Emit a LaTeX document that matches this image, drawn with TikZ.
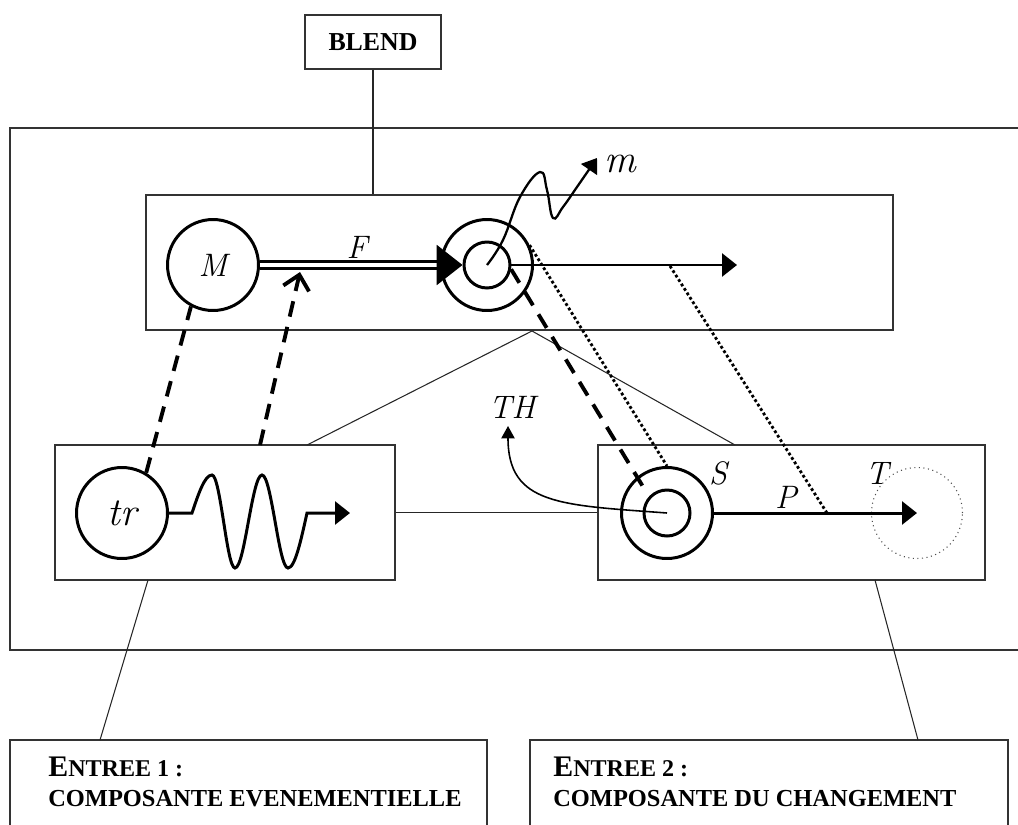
\documentclass[tikz,border=0pt]{standalone}
\usepackage{fontspec}
\newfontfamily\entryfont{Liberation Serif}
\usetikzlibrary{arrows.meta,calc}

\begin{document}
\begin{tikzpicture}[x=0.02cm, y=-0.02cm,
  box/.style={rectangle, draw=black!80, line width=0.8pt, inner sep=0pt},
  ring/.style={circle, draw, line width=1.7pt, inner sep=0pt, minimum size=1.82cm},
  core/.style={circle, draw, line width=1.7pt, inner sep=0pt, minimum size=0.92cm},
  lab/.style={inner sep=0pt, font=\itshape\fontsize{18.5}{20}\selectfont},
  biglab/.style={inner sep=0pt, font=\itshape\fontsize{22.5}{24}\selectfont},
  link/.style={line width=0.6pt, draw=black!85},
  dashline/.style={line width=2.2pt, dash pattern=on 9pt off 6pt},
  dotline/.style={line width=1.6pt, dash pattern=on 1.6pt off 1.4pt},
  flow/.style={line width=1.7pt, -{Triangle[length=8.5pt,width=13pt]}},
  title/.style={font=\entryfont\bfseries, inner sep=0pt, anchor=base west}]
\useasboundingbox (0,0) rectangle (1018,825);

% boxes
\node[box, minimum width=2.72cm, minimum height=1.08cm, font=\entryfont\bfseries\fontsize{14.7}{16}\selectfont] (blend) at (373,42) {BLEND};
\node[box, minimum width=20.6cm, minimum height=10.44cm] (frame) at (525,389) {};
\node[box, minimum width=14.94cm, minimum height=2.7cm] (blendbox) at (519.5,262.5) {};
\node[box, minimum width=6.8cm, minimum height=2.7cm] (input1) at (225,512.5) {};
\node[box, minimum width=7.74cm, minimum height=2.7cm] (input2) at (791.5,512.5) {};
\node[box, minimum width=9.54cm, minimum height=2cm] (entry1) at (248.5,790) {};
\node[box, minimum width=9.56cm, minimum height=2cm] (entry2) at (769,790) {};

% circles
\node[ring, lab] (circM) at (213,265) {M};
\node[ring] (circX) at (487,265) {};
\node[core] (circXin) at (487,265) {};
\node[ring, biglab] (circTr) at (122,513) {tr};
\node[ring] (circS) at (667,513) {};
\node[core] (circSin) at (667,513) {};
\node[ring, draw=black!70, line width=0.6pt, dotted] (circT) at (917,513) {};

% labels
\node[lab] (labF) at (357,247) {F};
\node[biglab] (labm) at (620,164) {m};
\node[lab] (labTH) at (512,407) {TH};
\node[lab] (labS) at (718,473) {S};
\node[lab] (labP) at (786,497) {P};
\node[lab] (labT) at (877,473) {T};

\node[title] (e1title) at (48,776) {\fontsize{17}{20}\selectfont E\fontsize{13.7}{16}\selectfont NTREE 1 :};
\node[title] (e1sub) at (48,806) {\fontsize{13.9}{16}\selectfont COMPOSANTE EVENEMENTIELLE};
\node[title] (e2title) at (553,776) {\fontsize{17}{20}\selectfont E\fontsize{13.7}{16}\selectfont NTREE 2 :};
\node[title] (e2sub) at (553,806) {\fontsize{13.9}{16}\selectfont COMPOSANTE DU CHANGEMENT};

% free ends
\coordinate (apex) at (532,331);
\coordinate (in1top) at (307,445);
\coordinate (in2top) at (735,445);
\coordinate (in1bot) at (148,580);
\coordinate (e1top) at (100,740);
\coordinate (in2bot) at (875,580);
\coordinate (e2top) at (918,740);
\coordinate (xtip) at (737,265);
\coordinate (trtip) at (350,513);
\coordinate (fstart) at (260,445);
\coordinate (fend) at (300,272);
\coordinate (sdash) at (645,490);
\coordinate (pX) at (670,266);
\coordinate (pS) at (827,513);
\coordinate (thtip) at (508,426);

% thin links
\draw[link] (blend) -- (blend |- blendbox.north);
\draw[link] (in1top) -- (apex) -- (in2top);
\draw[link] (input1) -- (input2);
\draw[link] (in1bot) -- (e1top);
\draw[link] (in2bot) -- (e2top);

% blend
\draw[line width=1.5pt, double, double distance=2.4pt, shorten >=12pt] (circM.east) -- (circXin.west);
\draw[line width=1.5pt, -{Triangle[length=14.7pt,width=22.7pt]}, shorten <=101pt] (circM.east) -- (circXin.west);
\draw[flow] (circXin.east) -- (xtip);
\draw[line width=1.3pt, -{Triangle[length=8pt,width=11pt]}] plot[smooth, tension=0.7] coordinates {(487,265) (503,240) (520,197) (540,172) (547,190) (553,218) (563,207) (577,187) (597,158)};

% inputs
\draw[flow] (circTr.east) -- (192,513) sin (212,475) cos (223.5,521) sin (235,568) cos (248.5,521) sin (262,475) cos (275,521) sin (288,568) cos (307,513) -- (trtip);
\draw[flow] (circS.east) -- (circT.center);
\draw[line width=0.9pt, -{Triangle[length=7pt,width=7.5pt]}] (circS.center) .. controls (560,505) and (508,505) .. (thtip);

% projections
\draw[dashline] (circTr.59) -- (circM.-118);
\draw[dashline, -{Straight Barb[length=8pt,width=15pt]}] (fstart) -- (fend);
\draw[dashline] (circXin.-10) -- (sdash);
\draw[dotline] (circX.25) -- (circS.north);
\draw[dotline] (pX) -- (pS);
\end{tikzpicture}
\end{document}
